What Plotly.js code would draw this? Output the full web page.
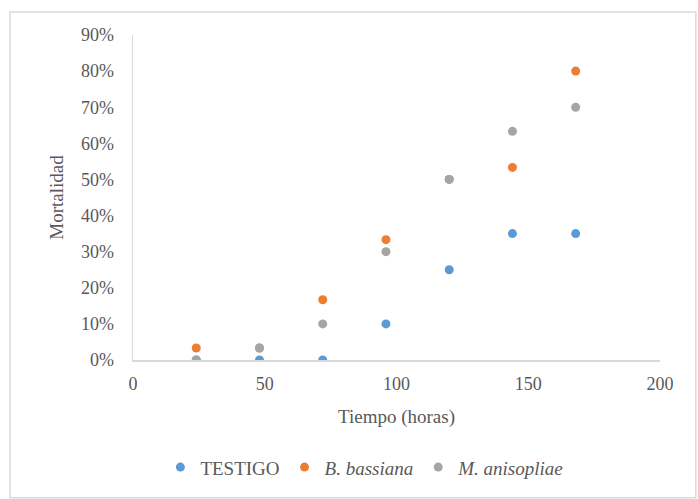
<!DOCTYPE html>
<html><head><meta charset="utf-8">
<script src="https://cdn.plot.ly/plotly-3.0.1.min.js"></script>
<style>html,body{margin:0;padding:0;background:#fff}#c{width:698px;height:499px}</style>
</head><body><div id="c"></div>
<script>
const hours = [24, 48, 72, 96, 120, 144, 168];
const testigo = [0, 0, 0, 10, 25, 35, 35];
const bassiana = [3.33, 3.33, 16.67, 33.33, 50, 53.33, 80];
const anisopliae = [0, 3.33, 10, 30, 50, 63.33, 70];
const seriesNames = ['TESTIGO', '<i>B. bassiana</i>', '<i>M. anisopliae</i>'];
const colors = ['#5B9BD5', '#ED7D31', '#A5A5A5'];
const yTicks = [0, 10, 20, 30, 40, 50, 60, 70, 80, 90];
const yTickText = ['0%', '10%', '20%', '30%', '40%', '50%', '60%', '70%', '80%', '90%'];
const xTicks = [0, 50, 100, 150, 200];

const data = [testigo, bassiana, anisopliae].map((ys, i) => ({
  x: hours, y: ys, type: 'scatter', mode: 'markers', name: seriesNames[i],
  marker: {color: colors[i], size: 9}
}));

const fam = 'Liberation Serif, Times New Roman, serif';
const f = (s) => ({family: fam, size: s, color: '#595959'});
const layout = {
  width: 698, height: 499,
  margin: {l: 133, r: 38, t: 35, b: 139},
  paper_bgcolor: '#fff', plot_bgcolor: '#fff',
  font: f(15),
  showlegend: true,
  legend: {orientation: 'h', x: 0.44, xanchor: 'center', y: -0.33, yanchor: 'middle',
           font: f(19), itemwidth: 30, tracegroupgap: 0},
  xaxis: {range: [0, 200], tickvals: xTicks, showgrid: false, zeroline: false,
          showline: true, linecolor: '#d9d9d9', linewidth: 1.5, ticks: '',
          tickfont: f(18), ticklabelstandoff: 7,
          title: {text: 'Tiempo (horas)', font: f(19), standoff: 16}},
  yaxis: {range: [0, 90], tickvals: yTicks, ticktext: yTickText, showgrid: false, zeroline: false,
          showline: true, linecolor: '#d9d9d9', linewidth: 1.5, ticks: '',
          tickfont: f(18), ticklabelstandoff: 14,
          title: {text: 'Mortalidad', font: f(19), standoff: 12}},
  shapes: [{type: 'rect', xref: 'paper', yref: 'paper', x0: -0.2334, x1: 1.068, y0: -0.424, y1: 1.0708,
            line: {color: '#d9d9d9', width: 1.5}, fillcolor: 'rgba(0,0,0,0)', layer: 'below'}]
};
Plotly.newPlot('c', data, layout, {displayModeBar: false, staticPlot: true});
</script></body></html>
